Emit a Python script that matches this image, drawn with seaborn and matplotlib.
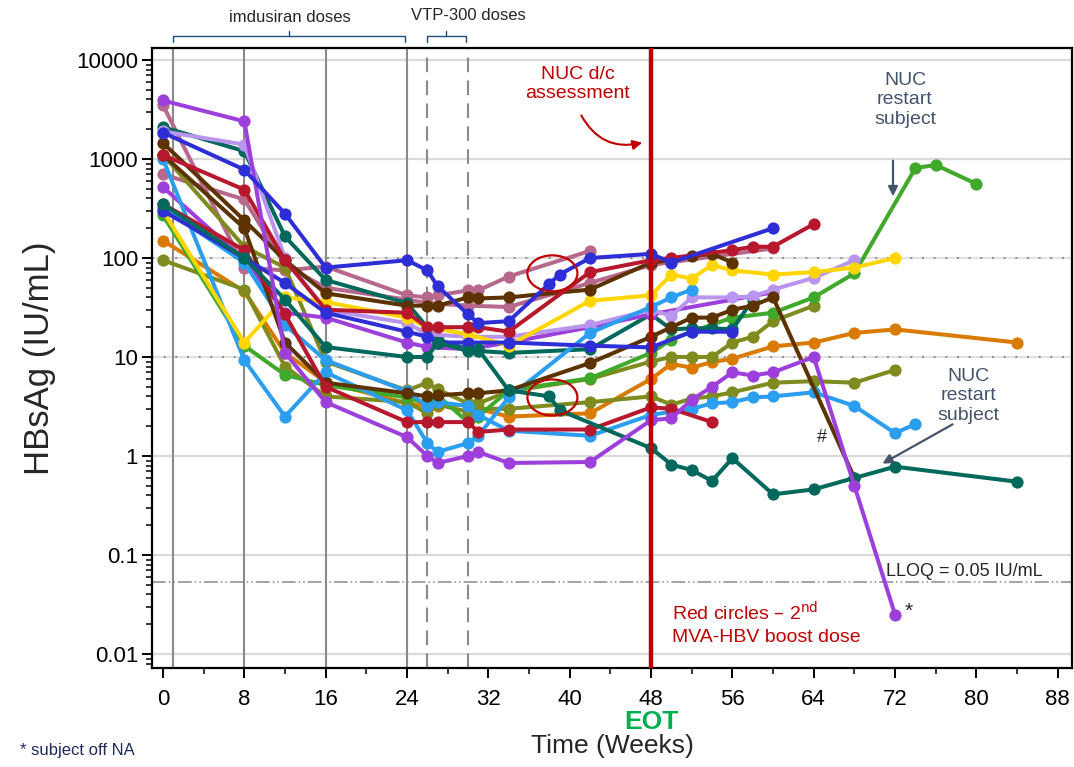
import numpy as np
import pandas as pd
import matplotlib
matplotlib.use("Agg")
import matplotlib.pyplot as plt
import seaborn as sns
from matplotlib.patches import Ellipse
from matplotlib.transforms import ScaledTranslation, blended_transform_factory
from matplotlib.ticker import LogLocator, NullFormatter, MultipleLocator

# ---------------- data (weeks, HBsAg IU/mL) ----------------
s01_weeks = [0, 8, 12, 16, 24, 26, 27, 30, 31, 34, 38, 39, 42, 48, 50, 60]
s01_vals = [1850, 780, 280, 80, 95, 75, 52, 27, 22, 23, 55, 68, 100, 110, 90, 200]
s02_weeks = [0, 8, 12, 16, 24, 26, 27, 30, 34, 42, 48, 52, 56]
s02_vals = [300, 100, 56, 28, 18, 16, 14, 14, 14, 13, 12.5, 18, 18]
s03_weeks = [0, 8, 12, 16, 24, 26, 27, 30, 31, 34, 42, 48, 50, 56, 58, 60, 64]
s03_vals = [1100, 490, 95, 30, 28, 20, 20, 20, 20, 18, 72, 95, 100, 120, 130, 130, 220]
s04_weeks = [0, 8, 12, 16, 24, 26, 27, 30, 31, 34, 42, 48, 50, 54]
s04_vals = [350, 120, 27, 5, 2.2, 2.2, 2.2, 2.2, 1.75, 1.85, 1.85, 3.1, 3.0, 2.2]
s05_weeks = [0, 8, 12, 16, 24, 26, 27, 30, 31, 34, 42, 48, 50, 52, 54, 56]
s05_vals = [1450, 240, 95, 44, 33, 33, 33, 40, 39, 40, 48, 90, 95, 105, 110, 90]
s06_weeks = [0, 8, 12, 16, 24, 26, 27, 30, 31, 34, 42, 48, 50, 52, 54, 56, 58, 60, 68]
s06_vals = [1100, 200, 14, 5.5, 4.3, 4.0, 4.1, 4.3, 4.3, 4.6, 8.7, 16, 20, 25, 25, 30, 33, 40, 0.6]
s07_weeks = [0, 8, 12, 16, 24, 26, 30, 34, 42, 48, 50, 52, 54, 56, 60, 64, 68, 72]
s07_vals = [300, 14, 40, 36, 25, 20, 17, 13, 37, 42, 68, 62, 85, 75, 68, 72, 80, 100]
s08_weeks = [0, 8, 12, 16, 24, 26, 27, 30, 31, 34, 42, 48, 50, 52]
s08_vals = [1000, 9.3, 2.5, 7, 2.9, 1.35, 1.1, 1.35, 1.6, 3.9, 17.5, 32, 40, 48]
s09_weeks = [0, 8, 12, 16, 24, 26, 27, 30, 31, 34, 42, 48, 50, 52, 54, 56, 58, 60, 64, 68, 72, 74]
s09_vals = [320, 90, 21, 9.3, 4.5, 3.2, 3.5, 3.2, 2.6, 1.8, 1.6, 2.6, 2.8, 3.0, 3.4, 3.5, 3.9, 4.0, 4.4, 3.2, 1.7, 2.1]
s10_weeks = [0, 8, 12, 16, 24, 26, 30, 34, 42, 48, 50, 52, 56, 58, 60, 64, 68]
s10_vals = [1900, 1400, 100, 30, 22, 17, 16, 16, 21, 30, 26, 40, 40, 41, 48, 63, 95]
s11_weeks = [0, 8, 12, 16, 24, 26, 27, 30, 31, 34, 42, 48, 50, 52, 54, 56, 58, 60, 64, 68, 72]
s11_vals = [3900, 2400, 11, 3.5, 1.55, 1.0, 0.85, 1.0, 1.1, 0.85, 0.87, 2.3, 2.4, 3.7, 5, 7, 6.5, 7, 10, 0.5, 0.025]
s12_weeks = [0, 8, 12, 16, 24, 26, 30, 34, 42, 48, 60]
s12_vals = [520, 95, 28, 25, 14, 12.6, 12, 14, 20, 27, 45]
s13_weeks = [0, 8, 12, 16, 24, 26, 27, 30, 31, 34, 38, 39, 48, 50, 52, 54, 56, 60, 64, 68, 72, 84]
s13_vals = [350, 100, 38, 12.6, 10, 10, 14, 11.5, 12, 4.6, 4.0, 2.9, 1.2, 0.82, 0.72, 0.56, 0.95, 0.41, 0.46, 0.6, 0.78, 0.55]
s14_weeks = [0, 8, 12, 16, 24, 27, 30, 31, 34, 42, 48, 50, 52, 54, 56, 58]
s14_vals = [2100, 1200, 165, 60, 35, 15, 12, 11.5, 11, 12, 27, 19, 19.5, 19.5, 19, 38]
s15_weeks = [0, 8, 12, 16, 24, 26, 27, 30, 31, 34, 42, 48, 50, 52, 56, 60, 64, 68, 74, 76, 80]
s15_vals = [270, 13, 6.6, 5.2, 3.9, 3.4, 4.1, 2.2, 2.5, 4.6, 6.1, 11, 15, 18, 25, 28, 40, 70, 810, 870, 560]
s16_weeks = [0, 8, 12, 16, 24, 26, 27, 30, 31, 34, 42, 48, 50, 52, 54, 56, 58, 60, 64]
s16_vals = [1100, 130, 80, 9, 4.6, 5.5, 4.7, 3.4, 3.4, 4.5, 6, 9, 10, 10, 10, 14, 16, 23, 33]
s17_weeks = [0, 8, 12, 16, 24, 26, 27, 30, 31, 34, 42, 48, 50, 52, 54, 56, 60, 64, 68, 72]
s17_vals = [95, 48, 8, 4, 3.5, 2.7, 3.3, 2.8, 3.0, 3.0, 3.5, 4, 3.3, 3.8, 4.0, 4.4, 5.5, 5.7, 5.5, 7.4]
s18_weeks = [0, 8, 12, 16, 24, 26, 27, 30, 31, 34, 42, 48, 50, 52, 54, 56, 60, 64, 68, 72, 84]
s18_vals = [150, 46, 11, 5.6, 3.4, 3.2, 3.2, 3.3, 3.0, 2.5, 2.7, 6, 8.5, 7.8, 8.9, 9.6, 12.8, 14, 17.5, 19, 14]
s19_weeks = [0, 8, 12, 16, 24, 26, 27, 30, 31, 34, 42]
s19_vals = [3500, 80, 75, 82, 42, 40, 42, 47, 47, 65, 118]
s20_weeks = [0, 8, 12, 16, 24, 26, 30, 34, 42, 48, 60]
s20_vals = [700, 390, 85, 50, 38, 35, 33, 32, 56, 85, 125]

subject_colors = {
    "S20": "#B8688C", "S19": "#B8688C", "S18": "#D97B00", "S17": "#7F8B1E",
    "S16": "#7F8B1E", "S15": "#40A92B", "S14": "#00695C", "S12": "#9D40DB",
    "S10": "#B995F0", "S09": "#2B9EF0", "S08": "#2B9EF0", "S07": "#FFD600",
    "S06": "#5C3300", "S05": "#5C3300", "S04": "#B8182E", "S03": "#B8182E",
    "S02": "#2E2ED6", "S13": "#00695C", "S11": "#9D40DB", "S01": "#2E2ED6",
}

subjects = {
    "S01": (s01_weeks, s01_vals), "S02": (s02_weeks, s02_vals), "S03": (s03_weeks, s03_vals),
    "S04": (s04_weeks, s04_vals), "S05": (s05_weeks, s05_vals), "S06": (s06_weeks, s06_vals),
    "S07": (s07_weeks, s07_vals), "S08": (s08_weeks, s08_vals), "S09": (s09_weeks, s09_vals),
    "S10": (s10_weeks, s10_vals), "S11": (s11_weeks, s11_vals), "S12": (s12_weeks, s12_vals),
    "S13": (s13_weeks, s13_vals), "S14": (s14_weeks, s14_vals), "S15": (s15_weeks, s15_vals),
    "S16": (s16_weeks, s16_vals), "S17": (s17_weeks, s17_vals), "S18": (s18_weeks, s18_vals),
    "S19": (s19_weeks, s19_vals), "S20": (s20_weeks, s20_vals),
}

imdusiran_weeks = [1, 8, 16, 24]
vtp_weeks = [26, 30]
eot_week = 48
lloq = 0.053
y_ticks = [0.01, 0.1, 1, 10, 100, 1000, 10000]
y_ticklabels = ["0.01", "0.1", "1", "10", "100", "1000", "10000"]
x_ticks = list(range(0, 89, 8))

rows = []
for sid, (w, v) in subjects.items():
    for wi, vi in zip(w, v):
        rows.append({"subject": sid, "week": wi, "value": vi})
df = pd.DataFrame(rows)
hue_order = list(subject_colors.keys())

# ---------------- figure ----------------
sns.set_theme(style="white")
plt.rcParams["font.family"] = ["Liberation Sans", "DejaVu Sans"]
narrow = ["Liberation Sans Narrow", "Liberation Sans", "DejaVu Sans"]

W, H = 1074, 767
fig = plt.figure(figsize=(W / 100, H / 100), dpi=100)
ax = fig.add_axes([152 / W, 1 - 668 / H, 920 / W, 620 / H])
ax.set_yscale("log")

def fx(x):
    return x / W

def fy(y):
    return 1 - y / H

# grid lines
for yv in [0.01, 0.1, 1, 1000, 10000]:
    ax.axhline(yv, color="#DADADA", lw=1.6, zorder=0)
for yv in [10, 100]:
    ax.axhline(yv, color="#E2E2E2", lw=1.6, zorder=0)
    ax.axhline(yv, color="#8C8C8C", lw=1.4, ls=(0, (1, 5)), zorder=0.5)

for wk in imdusiran_weeks:
    ax.axvline(wk, color="#8A8A8A", lw=1.5, zorder=1)
for wk in vtp_weeks:
    ax.axvline(wk, color="#8A8A8A", lw=1.5, ls=(0, (7, 4)), zorder=1)

ax.axhline(lloq, color="#8A8A8A", lw=1.1, ls=(0, (9, 2, 1, 2, 1, 2)), zorder=1)

sns.lineplot(data=df, x="week", y="value", hue="subject", hue_order=hue_order,
             palette=subject_colors, estimator=None, sort=False, marker="o",
             markersize=8.8, markeredgewidth=0, linewidth=2.9, legend=False,
             ax=ax, zorder=3)

ax.axvline(eot_week, color="#C00000", lw=3.2, zorder=5)

ax.set_xlim(-1.08, 89.4)
ax.set_ylim(0.00722, 13220)
ax.set_xticks(x_ticks)
ax.set_xticklabels([str(t) for t in x_ticks], family=narrow)
ax.xaxis.set_minor_locator(MultipleLocator(4))
ax.set_yticks(y_ticks)
ax.set_yticklabels(y_ticklabels)
ax.yaxis.set_minor_locator(LogLocator(base=10, subs=np.arange(2, 10)))
ax.yaxis.set_minor_formatter(NullFormatter())
ax.tick_params(axis="both", which="both", direction="out", left=True, bottom=True, colors="black")
ax.tick_params(axis="both", which="major", length=7, width=1.4)
ax.tick_params(axis="both", which="minor", length=4, width=1.1)
ax.tick_params(axis="y", which="major", labelsize=16, pad=3)
ax.tick_params(axis="x", which="major", labelsize=16, pad=8)
for sp in ax.spines.values():
    sp.set_visible(True)
    sp.set_color("black")
    sp.set_linewidth(1.6)

ax.set_xlabel("Time (Weeks)", fontsize=19, family=narrow)
ax.xaxis.set_label_coords(0.5, -(746 - 668) / 620)
ax.xaxis.label.set_va("center")
ax.set_ylabel("HBsAg (IU/mL)", fontsize=25)
ax.yaxis.set_label_coords((40 - 152) / 920, 0.5)
ax.yaxis.label.set_va("center")

# top brackets
bt = blended_transform_factory(ax.transData, ax.transAxes)
bcol = "#1F4E79"
def bracket(x0, x1):
    ax.plot([x0, x0, x1, x1], [1.0097, 1.0194, 1.0194, 1.0097], color=bcol, lw=1,
            transform=bt, clip_on=False)
    xm = (x0 + x1) / 2
    ax.plot([xm, xm], [1.0194, 1.0274], color=bcol, lw=1, transform=bt, clip_on=False)
bracket(0.98, 23.8)
bracket(25.96, 29.8)
fig.text(fx(290), fy(17), "imdusiran doses", ha="center", va="center", fontsize=12, family=narrow)
fig.text(fx(468), fy(15), "VTP-300 doses", ha="center", va="center", fontsize=12, family=narrow)

# ellipses marking boost doses
for (cw, cv) in [(38.3, 70.0), (38.3, 3.9)]:
    e = Ellipse((0, 0), width=0.50, height=0.36, fill=False, edgecolor="#C00000", lw=1.6,
                transform=fig.dpi_scale_trans + ScaledTranslation(cw, cv, ax.transData),
                zorder=6)
    ax.add_artist(e)

red = "#C00000"
slate = "#44546A"
fig.text(fx(578), fy(84), "NUC d/c\nassessment", color=red, fontsize=14, ha="center",
         va="center", linespacing=1.15)
ax.annotate("", xy=(fx(645), fy(142)), xytext=(fx(580), fy(113)), xycoords="figure fraction",
            textcoords="figure fraction",
            arrowprops=dict(arrowstyle="-|>", color=red, lw=1.5, mutation_scale=14,
                            connectionstyle="arc3,rad=0.4"))

fig.text(fx(905), fy(100), "NUC\nrestart\nsubject", color=slate, fontsize=14, ha="center",
         va="center", linespacing=1.2)
ax.annotate("", xy=(fx(893), fy(199)), xytext=(fx(893), fy(158)), xycoords="figure fraction",
            textcoords="figure fraction",
            arrowprops=dict(arrowstyle="-|>", color=slate, lw=1.6, mutation_scale=14))
fig.text(fx(968), fy(396), "NUC\nrestart\nsubject", color=slate, fontsize=14, ha="center",
         va="center", linespacing=1.2)
ax.annotate("", xy=(fx(880), fy(465)), xytext=(fx(955), fy(423)), xycoords="figure fraction",
            textcoords="figure fraction",
            arrowprops=dict(arrowstyle="-|>", color=slate, lw=1.6, mutation_scale=14))

fig.text(fx(822), fy(437), "#", fontsize=13, ha="center", va="center")
fig.text(fx(909), fy(611), "*", fontsize=15, ha="center", va="center")
fig.text(fx(886), fy(572), "LLOQ = 0.05 IU/mL", fontsize=13, ha="left", va="center")
fig.text(fx(672), fy(613), "Red circles \u2013 2$^{\\rm nd}$", color=red, fontsize=14,
         ha="left", va="center")
fig.text(fx(672), fy(638), "MVA-HBV boost dose", color=red, fontsize=14, ha="left", va="center")

fig.text(fx(651), fy(722), "EOT", color="#00B050", fontsize=19, fontweight="bold",
         ha="center", va="center", family=narrow)
fig.text(fx(20), fy(750), "* subject off NA", color="#1F2A5A", fontsize=12, ha="left",
         va="center")

fig.savefig("out.png", dpi=100)
